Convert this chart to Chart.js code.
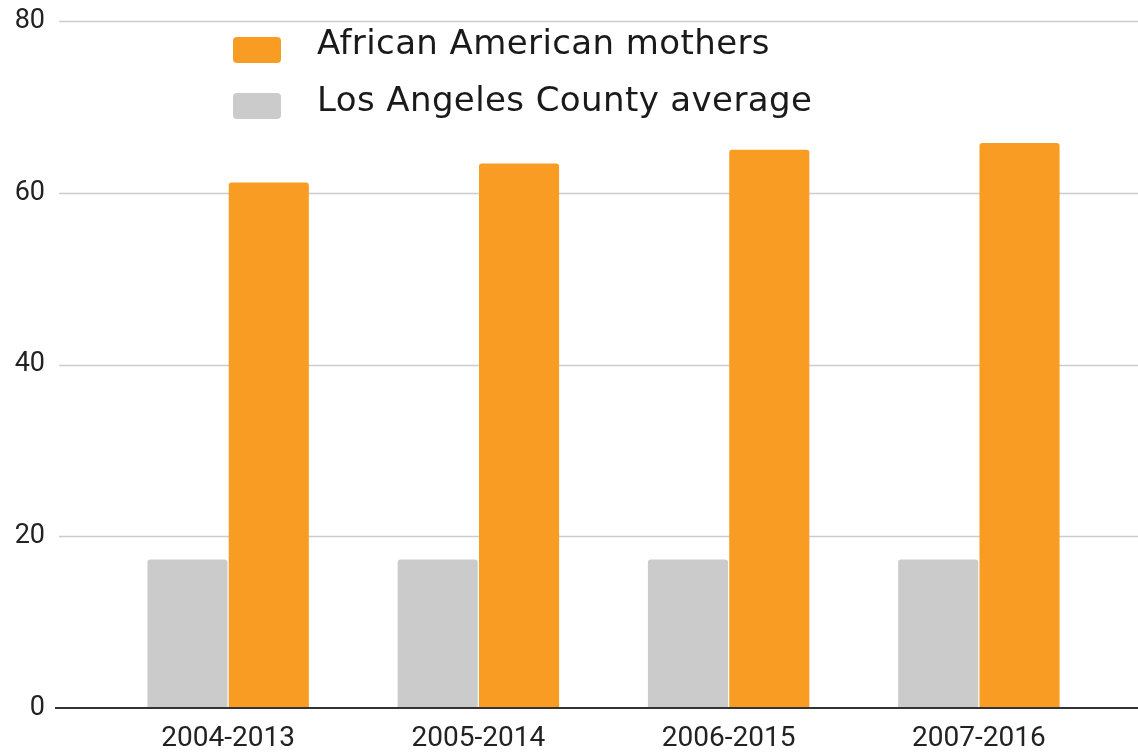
<!DOCTYPE html>
<html>
<head>
<meta charset="utf-8">
<script src="https://cdn.jsdelivr.net/npm/chart.js@4.4.1/dist/chart.umd.min.js"></script>
<style>
    html, body { margin: 0; padding: 0; background: #ffffff; }
    #wrap { width: 1138px; height: 754px; position: relative; }
</style>
</head>
<body>
<div id="wrap"><canvas id="chart"></canvas></div>
<script>
// Datos
const categories = ['2004-2013', '2005-2014', '2006-2015', '2007-2016'];
const africanAmericanMothers = [61.2, 63.4, 65.0, 65.8];
const countyAverage = [17.3, 17.3, 17.3, 17.3];
const seriesNames = ['African American mothers', 'Los Angeles County average'];

const ORANGE = '#f89c24';
const GRAY = '#cbcbcb';

/* Grid lines wider than the chart area + base line */
const wideGrid = {
    id: 'wideGrid',
    beforeDatasetsDraw(chart) {
        const { ctx, scales: { y } } = chart;
        ctx.save();
        ctx.strokeStyle = '#cccccc';
        ctx.lineWidth = 1.5;
        y.ticks.forEach((t) => {
            if (t.value === 0) return;
            const py = Math.round(y.getPixelForValue(t.value)) + 0.5;
            ctx.beginPath();
            ctx.moveTo(59, py);
            ctx.lineTo(chart.width, py);
            ctx.stroke();
        });
        ctx.restore();
    },
    afterDatasetsDraw(chart) {
        const { ctx, scales: { y } } = chart;
        const py = y.getPixelForValue(0);
        ctx.save();
        ctx.strokeStyle = '#333333';
        ctx.lineWidth = 2;
        ctx.beginPath();
        ctx.moveTo(55, py);
        ctx.lineTo(chart.width, py);
        ctx.stroke();
        ctx.restore();
    }
};

/* Leyenda dentro del área */
const insideLegend = {
    id: 'insideLegend',
    afterDraw(chart) {
        const { ctx, chartArea } = chart;
        const x0 = chartArea.left + 130;
        const items = [chart.data.datasets[1], chart.data.datasets[0]];
        ctx.save();
        ctx.font = '34px "DejaVu Sans"';
        ctx.letterSpacing = '0.4px';
        ctx.textBaseline = 'alphabetic';
        items.forEach((ds, i) => {
            const top = 37 + i * 56;
            ctx.fillStyle = ds.backgroundColor;
            ctx.beginPath();
            ctx.roundRect(x0, top, 48, 26, 4);
            ctx.fill();
            ctx.fillStyle = '#1a1a1a';
            ctx.fillText(ds.label, x0 + 84, top + 17 + i);
        });
        ctx.restore();
    }
};

new Chart(document.getElementById('chart'), {
    type: 'bar',
    data: {
        labels: categories,
        datasets: [
            {
                label: seriesNames[1],
                data: countyAverage,
                backgroundColor: GRAY,
                borderRadius: { topLeft: 3, topRight: 3 },
                borderSkipped: 'bottom'
            },
            {
                label: seriesNames[0],
                data: africanAmericanMothers,
                backgroundColor: ORANGE,
                borderRadius: { topLeft: 3, topRight: 3 },
                borderSkipped: 'bottom'
            }
        ]
    },
    options: {
        responsive: true,
        maintainAspectRatio: false,
        animation: false,
        categoryPercentage: 0.65,
        barPercentage: 0.985,
        layout: { padding: { top: 21, right: 34, bottom: 0, left: 0 } },
        plugins: {
            legend: { display: false },
            tooltip: { enabled: false }
        },
        scales: {
            x: {
                grid: { display: false, drawTicks: false },
                border: { display: false },
                ticks: {
                    color: '#222222',
                    font: { family: 'Roboto', size: 28 },
                    padding: 14
                },
                afterFit(scale) { scale.height = 46; }
            },
            y: {
                min: 0,
                max: 80,
                grid: { display: false, drawTicks: false },
                border: { display: false },
                ticks: {
                    stepSize: 20,
                    color: '#222222',
                    font: { family: 'Roboto', size: 27 },
                    padding: 58
                },
                afterFit(scale) {
                    scale.width = 103;
                    scale.paddingTop = 0;
                    scale.paddingBottom = 0;
                }
            }
        }
    },
    plugins: [wideGrid, insideLegend]
});
</script>
</body>
</html>
